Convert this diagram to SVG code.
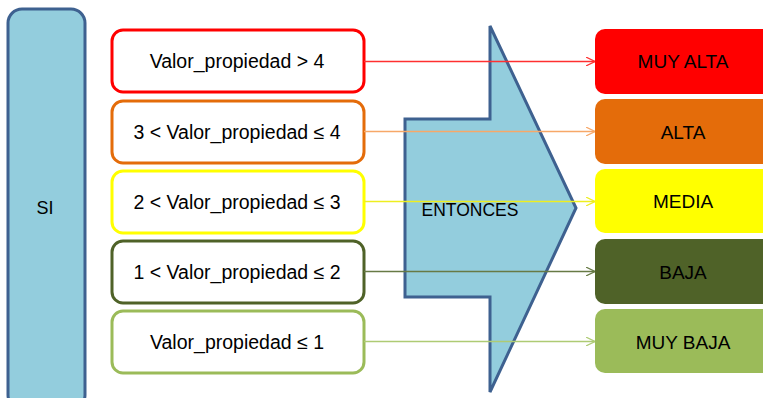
<svg xmlns="http://www.w3.org/2000/svg" width="763" height="398" viewBox="0 0 763 398">
<style>
text{font-family:"Liberation Sans",Arial,sans-serif;font-size:19px;fill:#000;text-anchor:middle}
.ct{font-size:19.5px}
.cond{fill:#fff;stroke-width:3}
.res{stroke:none}
.conn{fill:none;stroke-width:1.3}
</style>
<defs>
<marker id="a1" viewBox="0 0 10 10" refX="10" refY="5" markerWidth="9" markerHeight="9" markerUnits="userSpaceOnUse" orient="auto"><path d="M0,0 L10,5 L0,10" fill="none" stroke="#FF3030" stroke-width="1.3"/></marker>
<marker id="a2" viewBox="0 0 10 10" refX="10" refY="5" markerWidth="9" markerHeight="9" markerUnits="userSpaceOnUse" orient="auto"><path d="M0,0 L10,5 L0,10" fill="none" stroke="#F7A868" stroke-width="1.3"/></marker>
<marker id="a3" viewBox="0 0 10 10" refX="10" refY="5" markerWidth="9" markerHeight="9" markerUnits="userSpaceOnUse" orient="auto"><path d="M0,0 L10,5 L0,10" fill="none" stroke="#EEEE20" stroke-width="1.3"/></marker>
<marker id="a4" viewBox="0 0 10 10" refX="10" refY="5" markerWidth="9" markerHeight="9" markerUnits="userSpaceOnUse" orient="auto"><path d="M0,0 L10,5 L0,10" fill="none" stroke="#677A45" stroke-width="1.3"/></marker>
<marker id="a5" viewBox="0 0 10 10" refX="10" refY="5" markerWidth="9" markerHeight="9" markerUnits="userSpaceOnUse" orient="auto"><path d="M0,0 L10,5 L0,10" fill="none" stroke="#AECB74" stroke-width="1.3"/></marker>
</defs>
<g id="si">
<rect x="8" y="9" width="77" height="400" rx="14" fill="#93CDDD" stroke="#3E6190" stroke-width="3"/>
<text x="45" y="214" style="font-size:18px">SI</text>
</g>
<g id="entonces">
<polygon points="490,26 576,208 490,392 490,297 405,297 405,119 490,119" fill="#93CDDD" stroke="#3E6190" stroke-width="3" stroke-linejoin="miter"/>
<text x="470" y="216" style="font-size:17.5px">ENTONCES</text>
</g>
<g id="c1"><rect class="cond" x="112" y="30" width="252" height="62" rx="11" stroke="#FF0000"/><text class="ct" x="237" y="68">Valor_propiedad &gt; 4</text></g>
<g id="c2"><rect class="cond" x="112" y="101" width="252" height="62" rx="11" stroke="#E46C0A"/><text class="ct" x="237" y="139">3 &lt; Valor_propiedad ≤ 4</text></g>
<g id="c3"><rect class="cond" x="112" y="171" width="252" height="62" rx="11" stroke="#FFFF00"/><text class="ct" x="237" y="209">2 &lt; Valor_propiedad ≤ 3</text></g>
<g id="c4"><rect class="cond" x="112" y="241" width="252" height="62" rx="11" stroke="#4F6228"/><text class="ct" x="237" y="279">1 &lt; Valor_propiedad ≤ 2</text></g>
<g id="c5"><rect class="cond" x="112" y="311" width="252" height="62" rx="11" stroke="#9BBB59"/><text class="ct" x="237" y="349">Valor_propiedad ≤ 1</text></g>
<g id="r1"><rect class="res" x="595" y="29" width="185" height="65" rx="10" fill="#FF0000"/><text x="683" y="68">MUY ALTA</text></g>
<g id="r2"><rect class="res" x="595" y="99" width="185" height="65" rx="10" fill="#E46C0A"/><text x="683" y="139">ALTA</text></g>
<g id="r3"><rect class="res" x="595" y="169" width="185" height="64" rx="10" fill="#FFFF00"/><text x="683" y="208">MEDIA</text></g>
<g id="r4"><rect class="res" x="595" y="239" width="185" height="65" rx="10" fill="#4F6228"/><text x="683" y="279">BAJA</text></g>
<g id="r5"><rect class="res" x="595" y="309" width="185" height="64" rx="10" fill="#9BBB59"/><text x="683" y="349">MUY BAJA</text></g>
<g id="connectors">
<line class="conn" x1="364" y1="61.5" x2="595" y2="61.5" stroke="#FF3030" marker-end="url(#a1)"/>
<line class="conn" x1="364" y1="131.5" x2="595" y2="131.5" stroke="#F7A868" marker-end="url(#a2)"/>
<line class="conn" x1="364" y1="201.5" x2="595" y2="201.5" stroke="#EEEE20" marker-end="url(#a3)"/>
<line class="conn" x1="364" y1="271.5" x2="595" y2="271.5" stroke="#677A45" marker-end="url(#a4)"/>
<line class="conn" x1="364" y1="341.5" x2="595" y2="341.5" stroke="#AECB74" marker-end="url(#a5)"/>
</g>
</svg>
